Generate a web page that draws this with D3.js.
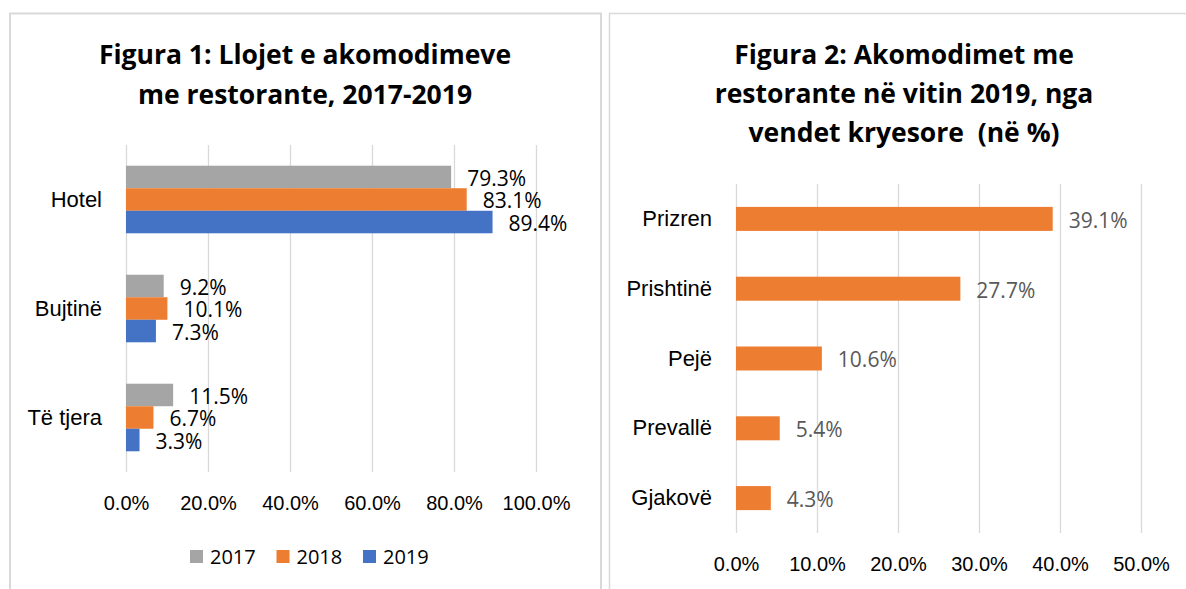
<!DOCTYPE html>
<html>
<head>
    <meta charset="utf-8" />
    <title>Akomodimet me restorante</title>
    <script src="https://cdn.jsdelivr.net/npm/d3@7"></script>
    <style>
        body { margin: 0; background: #fff; }
        svg { display: block; font-family: "Open Sans", Lato, sans-serif; }
        .grid line { stroke: #D9D9D9; stroke-width: 1.3; }
        .grid .domain { display: none; }
        .cat .domain { display: none; }
    </style>
</head>
<body>
    <svg width="1186" height="589"></svg>
    <script>

        // Figura 1
        var types = ["Hotel", "Bujtinë", "Të tjera"];
        var years = ["2017", "2018", "2019"];
        var yearColors = ["#A5A5A5", "#ED7D31", "#4472C4"];
        var v2017 = [79.3, 9.2, 11.5];
        var v2018 = [83.1, 10.1, 6.7];
        var v2019 = [89.4, 7.3, 3.3];
        var ticks1 = [0, 20, 40, 60, 80, 100];

        // Figura 2
        var places = ["Prizren", "Prishtinë", "Pejë", "Prevallë", "Gjakovë"];
        var share2019 = [39.1, 27.7, 10.6, 5.4, 4.3];
        var ticks2 = [0, 10, 20, 30, 40, 50];

        var svg = d3.select("svg");
        var pct = d3.format(".1f");

        // panel frames
        svg.append("rect").attr("x", 10).attr("y", 13.5).attr("width", 591).attr("height", 600)
            .attr("fill", "none").attr("stroke", "#D9D9D9").attr("stroke-width", 2);
        svg.append("rect").attr("x", 609.5).attr("y", 13.5).attr("width", 600).attr("height", 600)
            .attr("fill", "none").attr("stroke", "#D9D9D9").attr("stroke-width", 1.5);

        // ---------- chart 1 ----------
        var g1 = svg.append("g");
        var x1 = d3.scaleLinear().domain([0, 100]).range([126, 536]);
        var y1 = d3.scaleBand().domain(types).range([145, 472]).paddingInner(0.38).paddingOuter(0.19);
        var yy1 = d3.scaleBand().domain(years).range([0, y1.bandwidth()]);
        var color1 = d3.scaleOrdinal().domain(years).range(yearColors);

        g1.append("g").attr("class", "grid")
            .attr("transform", "translate(0,472)")
            .call(d3.axisBottom(x1).tickValues(ticks1).tickSize(-(472 - 145)).tickPadding(24)
                .tickFormat(function (d) { return pct(d) + "%"; }))
            .call(function (a) {
                a.selectAll("text").attr("fill", "#000").style("font-size", "20px").style("font-family", null);
            });

        g1.append("g").attr("class", "cat")
            .attr("transform", "translate(126,0)")
            .call(d3.axisLeft(y1).tickSize(0).tickPadding(24))
            .call(function (a) {
                a.selectAll("text").attr("fill", "#000").style("font-size", "22px").style("font-family", null);
            });

        var rows1 = types.map(function (t, i) {
            return { type: t, vals: [
                { year: "2017", v: v2017[i] },
                { year: "2018", v: v2018[i] },
                { year: "2019", v: v2019[i] }
            ] };
        });

        var grp = g1.selectAll(".grp").data(rows1).enter().append("g")
            .attr("transform", function (d) { return "translate(0," + y1(d.type) + ")"; });

        grp.selectAll("rect").data(function (d) { return d.vals; }).enter().append("rect")
            .attr("x", x1(0))
            .attr("y", function (d) { return yy1(d.year); })
            .attr("width", function (d) { return x1(d.v) - x1(0); })
            .attr("height", yy1.bandwidth())
            .attr("fill", function (d) { return color1(d.year); });

        grp.selectAll("text").data(function (d) { return d.vals; }).enter().append("text")
            .attr("x", function (d) { return x1(d.v) + 16; })
            .attr("y", function (d) { return yy1(d.year) + yy1.bandwidth() / 2 + 1.5; })
            .attr("dy", "0.35em")
            .attr("font-size", 21)
            .attr("fill", "#000")
            .text(function (d) { return pct(d.v) + "%"; });

        g1.append("text").attr("x", 305).attr("y", 64).attr("text-anchor", "middle")
            .attr("font-size", 26.5).attr("font-weight", "bold").text("Figura 1: Llojet e akomodimeve");
        g1.append("text").attr("x", 305).attr("y", 104).attr("text-anchor", "middle")
            .attr("font-size", 26.5).attr("font-weight", "bold").text("me restorante, 2017-2019");

        // legend
        var lg = g1.selectAll(".lg").data(years).enter().append("g")
            .attr("transform", function (d, i) { return "translate(" + (190 + i * 86.5) + ",550)"; });
        lg.append("rect").attr("width", 13).attr("height", 13).attr("fill", function (d) { return color1(d); });
        lg.append("text").attr("x", 20).attr("y", 6.5).attr("dy", "0.35em")
            .attr("font-size", 20).attr("fill", "#000").text(function (d) { return d; });

        // ---------- chart 2 ----------
        var g2 = svg.append("g");
        var x2 = d3.scaleLinear().domain([0, 50]).range([736, 1141]);
        var y2 = d3.scaleBand().domain(places).range([184, 533]).paddingInner(0.656).paddingOuter(0.328);

        g2.append("g").attr("class", "grid")
            .attr("transform", "translate(0,533)")
            .call(d3.axisBottom(x2).tickValues(ticks2).tickSize(-(533 - 184)).tickPadding(24)
                .tickFormat(function (d) { return pct(d) + "%"; }))
            .call(function (a) {
                a.selectAll("text").attr("fill", "#000").style("font-size", "20px").style("font-family", null);
            });

        g2.append("g").attr("class", "cat")
            .attr("transform", "translate(736,0)")
            .call(d3.axisLeft(y2).tickSize(0).tickPadding(24))
            .call(function (a) {
                a.selectAll("text").attr("fill", "#000").style("font-size", "22px").style("font-family", null);
            });

        g2.selectAll(".bar").data(places).enter().append("rect")
            .attr("x", x2(0))
            .attr("y", function (d) { return y2(d); })
            .attr("width", function (d, i) { return x2(share2019[i]) - x2(0); })
            .attr("height", y2.bandwidth())
            .attr("fill", "#ED7D31");

        g2.selectAll(".val").data(places).enter().append("text")
            .attr("x", function (d, i) { return x2(share2019[i]) + 16; })
            .attr("y", function (d) { return y2(d) + y2.bandwidth() / 2 + 1.5; })
            .attr("dy", "0.35em")
            .attr("font-size", 21)
            .attr("fill", "#595959")
            .text(function (d, i) { return pct(share2019[i]) + "%"; });

        var title2 = ["Figura 2: Akomodimet me", "restorante në vitin 2019, nga", "vendet kryesore  (në %)"];
        g2.selectAll(".t2").data(title2).enter().append("text")
            .attr("x", 904)
            .attr("y", function (d, i) { return 64 + i * 39; })
            .attr("text-anchor", "middle")
            .attr("font-size", 26.5).attr("font-weight", "bold")
            .style("white-space", "pre")
            .text(function (d) { return d; });

    </script>
</body>
</html>
